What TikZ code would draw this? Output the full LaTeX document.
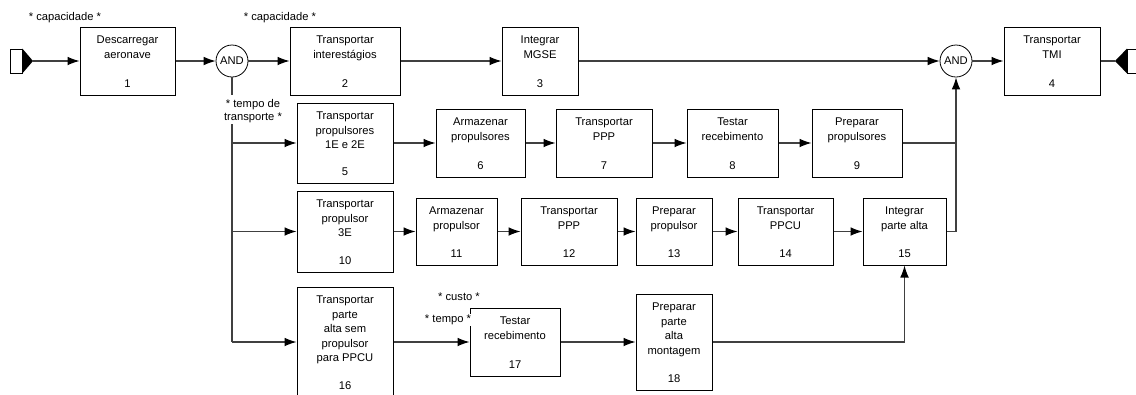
\documentclass[tikz,border=0pt]{standalone}
\usepackage{fontspec}
\setmainfont{Liberation Sans}
\usetikzlibrary{arrows.meta}
\tikzset{
  box/.style={draw=black, line width=0.75pt, inner sep=0pt, fill=white},
  btext/.style={inner sep=0pt, align=center, font=\fontsize{8.4}{10.9}\selectfont},
  lbl/.style={inner sep=0.5pt, font=\fontsize{8.4}{10.2}\selectfont, align=center},
  andnode/.style={draw=black, line width=0.6pt, circle, minimum size=24pt, inner sep=0pt, font=\fontsize{8.4}{10}\selectfont},
  conn/.style={draw=black!75, line width=0.8pt},
  arr/.style={conn, -{Latex[length=9pt,width=6.5pt,black]}},
}
\newcommand\blk[7]{%
  \node[box, minimum width={(#3-#2)*0.75pt}, minimum height={(#5-#4)*0.75pt}] (#1) at ({(#2+#3)/2},{(#4+#5)/2}) {};
  \path (#1.north) ++(0,9) node[btext, anchor=north] (#1t) {#6};
  \path (#1.south) ++(0,-8) node[btext, anchor=base] (#1n) {#7};
}
\begin{document}
\begin{tikzpicture}[x=0.75pt, y=-0.75pt]
\useasboundingbox (0,0) rectangle (1136,394);
% terminals
\node[draw=black, line width=0.6pt, fill=white, minimum width=9pt, minimum height=18pt, inner sep=0pt] (src) at (16,61) {};
\fill[black] (src.north east) -- (src.south east) -- (33,61) -- cycle;
\coordinate (s) at (33,61);
\node[draw=black, line width=0.6pt, fill=white, minimum width=12pt, minimum height=18pt, inner sep=0pt, anchor=west] (dst) at (1127,61) {};
\fill[black] (dst.north west) -- (dst.south west) -- (1115,61) -- cycle;
\coordinate (e) at (1115,61);
% blocks
\blk{b1}{80}{175}{27}{95}{Descarregar\\aeronave}{1}
\blk{b2}{290}{400}{27}{95}{Transportar\\interestágios}{2}
\blk{b3}{502}{578}{27}{95}{Integrar\\MGSE}{3}
\blk{b4}{1004}{1100}{27}{95}{Transportar\\TMI}{4}
\blk{b5}{297}{393}{103}{183}{Transportar\\propulsores\\1E e 2E}{5}
\blk{b6}{436}{525}{109}{177}{Armazenar\\propulsores}{6}
\blk{b7}{556}{652}{109}{177}{Transportar\\PPP}{7}
\blk{b8}{687}{778}{109}{177}{Testar\\recebimento}{8}
\blk{b9}{812}{902}{109}{177}{Preparar\\propulsores}{9}
\blk{b10}{297}{393}{191}{272}{Transportar\\propulsor\\3E}{10}
\blk{b11}{416}{497}{198}{265}{Armazenar\\propulsor}{11}
\blk{b12}{521}{617}{198}{265}{Transportar\\PPP}{12}
\blk{b13}{636}{712}{198}{265}{Preparar\\propulsor}{13}
\blk{b14}{738}{833}{198}{265}{Transportar\\PPCU}{14}
\blk{b15}{863}{946}{198}{265}{Integrar\\parte alta}{15}
\blk{b16}{297}{393}{287}{397}{Transportar\\parte\\alta sem\\propulsor\\para PPCU}{16}
\blk{b17}{470}{560}{308}{376}{Testar\\recebimento}{17}
\blk{b18}{636}{712}{294}{390}{Preparar\\parte\\alta\\montagem}{18}
% AND nodes
\node[andnode] (and1) at (232,61) {AND};
\node[andnode] (and2) at (956,61) {AND};
% labels
\node[lbl] (cap1) at (65,18) {* capacidade *};
\node[lbl] (cap2) at (280,18) {* capacidade *};
\node[lbl] (tp) at (253,111) {* tempo de\\transporte *};
\node[lbl] (custo) at (459,297) {* custo *};
% junction coordinates
\coordinate (t1) at (232,95);
\coordinate (t2) at (232,124);
\coordinate (j1) at (232,143);
\coordinate (j2) at (232,231.5);
\coordinate (j3) at (232,342);
% connectors
\draw[arr] (s) -- (b1);
\draw[arr] (b1) -- (and1);
\draw[arr] (and1) -- (b2);
\draw[arr] (b2) -- (b3);
\draw[arr] (b3) -- (and2);
\draw[arr] (and2) -- (b4);
\draw[conn] (b4) -- (e);
\draw[conn] (and1) -- (t1);
\draw[conn] (t2) -- (j3);
\draw[arr] (j1) -- (b5);
\draw[arr] (j2) -- (b10);
\draw[arr] (j3) -- (b16);
\draw[arr] (b5) -- (b6);
\draw[arr] (b6) -- (b7);
\draw[arr] (b7) -- (b8);
\draw[arr] (b8) -- (b9);
\draw[conn] (b9) -- (b9 -| and2);
\draw[arr] (b10) -- (b11);
\draw[arr] (b11) -- (b12);
\draw[arr] (b12) -- (b13);
\draw[arr] (b13) -- (b14);
\draw[arr] (b14) -- (b15);
\draw[arr] (b15) -| (and2);
\draw[arr] (b16) -- (b17);
\draw[arr] (b17) -- (b18);
\draw[arr] (b18) -| (b15);
\node[lbl, fill=white] (tempo) at (448,320) {* tempo *};
\end{tikzpicture}
\end{document}
